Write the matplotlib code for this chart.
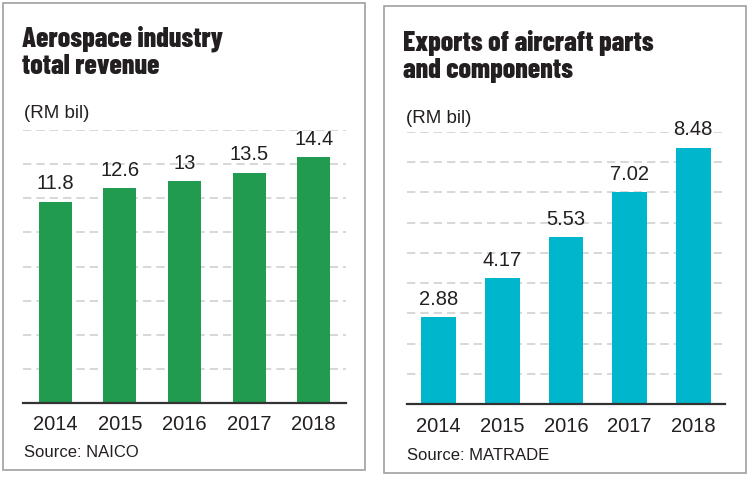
import matplotlib
matplotlib.use("Agg")
import matplotlib.pyplot as plt
from matplotlib.patches import Rectangle

years = ["2014", "2015", "2016", "2017", "2018"]
revenue = [11.8, 12.6, 13, 13.5, 14.4]
revenue_labels = ["11.8", "12.6", "13", "13.5", "14.4"]
exports = [2.88, 4.17, 5.53, 7.02, 8.48]
exports_labels = ["2.88", "4.17", "5.53", "7.02", "8.48"]

W, H = 750, 491
plt.rcParams['font.family'] = ['Liberation Sans', 'DejaVu Sans']
plt.rcParams['lines.scale_dashes'] = False
txt = '#231f20'
title_family = ['Barlow Condensed', 'Asap Condensed', 'DejaVu Sans']

fig = plt.figure(figsize=(W / 100, H / 100), dpi=100)
fig.patch.set_facecolor('white')


def px(x, y):
    return x / W, 1 - y / H


def panel(box, axbox, vals, labels, ymax, step, color, width, title, source, tx, ty, ux, uy, sx, sy):
    x0, y0, x1, y1 = box
    fig.patches.append(Rectangle((x0 / W, 1 - y1 / H), (x1 - x0) / W, (y1 - y0) / H,
                                 transform=fig.transFigure, fill=False,
                                 edgecolor='#a0a0a0', lw=1.2))
    l, t, r, b = axbox
    ax = fig.add_axes([l / W, 1 - b / H, (r - l) / W, (b - t) / H])
    ax.bar(range(len(years)), vals, width=width, color=color, zorder=3)
    ax.set_xlim(-0.5, len(years) - 0.5)
    ax.set_ylim(0, ymax)
    ax.set_yticks([step * i for i in range(1, int(round(ymax / step)) + 1)])
    ax.set_yticklabels([])
    ax.tick_params(axis='y', length=0)
    ax.yaxis.grid(True, color='#d4d4d4', lw=1.3, linestyle=(0, (6, 3.6)))
    ax.set_xticks(range(len(years)))
    ax.set_xticklabels(years, fontsize=14.5, color=txt)
    ax.tick_params(axis='x', length=0, pad=9)
    for s in ['top', 'left', 'right']:
        ax.spines[s].set_visible(False)
    ax.spines['bottom'].set_color('#333333')
    ax.spines['bottom'].set_linewidth(1.6)
    ax.spines['bottom'].set_zorder(4)
    ax.patch.set_alpha(0)
    for i, (v, lab) in enumerate(zip(vals, labels)):
        ax.annotate(lab, (i, v), xytext=(0, 6), textcoords='offset points',
                    ha='center', va='bottom', fontsize=14.5, color=txt)
    fig.text(*px(tx, ty), title, fontsize=20, fontweight=800, color=txt,
             family=title_family, va='baseline', linespacing=1.1)
    fig.text(*px(ux, uy), "(RM bil)", fontsize=13.5, color=txt, va='baseline')
    fig.text(*px(sx, sy), source, fontsize=12, color=txt, va='baseline')
    return ax


panel((3, 3, 365, 470), (23, 130, 346, 403), revenue, revenue_labels, 16, 2,
      '#219b4f', 0.51, "Aerospace industry\ntotal revenue", "Source: NAICO",
      22, 74, 24, 118, 24, 457)
panel((384, 6, 746, 473), (407, 132, 725, 404), exports, exports_labels, 9, 1,
      '#00b6cd', 0.55, "Exports of aircraft parts\nand components", "Source: MATRADE",
      403, 78, 406, 123, 407, 460)

fig.savefig("out.png", dpi=100)
